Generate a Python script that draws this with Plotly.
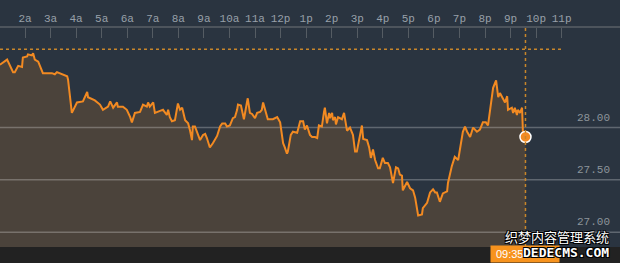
import plotly.graph_objects as go

day = "2015-01-01"

times = ["01:01","01:13","01:18","01:32","01:36","01:44","01:53","01:55","02:05","02:07","02:16","02:19","02:23","02:31","02:42","03:03","03:10","03:15","03:27","03:39","03:41","03:50","04:02","04:16","04:26","04:28","04:44","04:56","05:03","05:15","05:20","05:27","05:36","05:38","05:50","05:59","06:07","06:11","06:18","06:30","06:37","06:46","06:49","06:53","07:01","07:05","07:17","07:24","07:33","07:36","07:40","07:45","07:52","07:59","08:04","08:09","08:16","08:23","08:27","08:32","08:34","08:39","08:51","08:58","09:03","09:07","09:14","09:21","09:31","09:38","09:43","09:50","09:54","10:01","10:08","10:13","10:18","10:20","10:27","10:34","10:41","10:43","10:48","10:53","11:00","11:05","11:12","11:16","11:19","11:23","11:30","11:42","11:52","11:59","12:06","12:10","12:15","12:17","12:24","12:29","12:39","12:46","12:53","12:57","13:02","13:09","13:14","13:21","13:26","13:30","13:37","13:42","13:44","13:49","13:54","13:56","14:01","14:03","14:08","14:10","14:15","14:24","14:29","14:36","14:43","14:50","14:55","14:59","15:07","15:11","15:14","15:23","15:28","15:32","15:37","15:42","15:49","15:53","16:00","16:05","16:12","16:17","16:24","16:31","16:36","16:40","16:45","16:47","16:57","17:04","17:11","17:16","17:23","17:32","17:34","17:44","17:51","17:58","18:03","18:07","18:14","18:21","18:31","18:33","18:42","18:49","18:57","19:06","19:08","19:13","19:18","19:25","19:32","19:41","19:48","19:55","20:02","20:07","20:12","20:19","20:26","20:31","20:35","20:42","20:47","20:52","20:54","21:03","21:06","21:10","21:15","21:17","21:22","21:27","21:29","21:35"]

prices = [28.60,28.64,28.65,28.53,28.53,28.59,28.58,28.67,28.68,28.70,28.69,28.71,28.65,28.63,28.52,28.52,28.51,28.53,28.51,28.49,28.46,28.14,28.24,28.25,28.34,28.29,28.26,28.22,28.17,28.20,28.25,28.19,28.24,28.20,28.20,28.17,28.10,28.05,28.14,28.15,28.22,28.20,28.24,28.20,28.24,28.14,28.16,28.17,28.12,28.17,28.10,28.06,28.07,28.23,28.17,28.19,28.07,28.04,27.98,27.88,28.01,28.01,27.88,27.93,27.94,27.90,27.81,27.85,27.92,28.01,28.04,28.04,28.01,28.02,28.09,28.10,28.17,28.22,28.21,28.08,28.24,28.28,28.14,28.13,28.09,28.14,28.15,28.17,28.24,28.18,28.08,28.08,28.10,28.05,27.85,27.81,27.75,27.77,27.93,27.96,27.95,28.06,28.06,27.98,28.02,27.93,27.91,27.91,27.90,28.02,28.01,28.15,28.19,28.04,28.14,28.09,28.14,28.07,28.10,28.03,28.10,28.08,28.14,27.97,28.00,27.93,27.77,27.77,27.95,28.02,27.89,27.88,27.81,27.71,27.79,27.69,27.61,27.61,27.71,27.66,27.66,27.62,27.47,27.62,27.61,27.55,27.54,27.40,27.48,27.42,27.40,27.33,27.16,27.17,27.23,27.28,27.38,27.41,27.38,27.38,27.29,27.37,27.39,27.47,27.63,27.72,27.69,27.95,27.96,28.01,27.96,27.91,28.00,27.96,27.98,28.05,28.05,28.02,28.17,28.38,28.45,28.29,28.33,28.28,28.24,28.30,28.17,28.19,28.14,28.19,28.12,28.17,28.14,28.19,27.96,27.91]

tick_hours = ["02:00","03:00","04:00","05:00","06:00","07:00","08:00","09:00","10:00","11:00","12:00","13:00","14:00","15:00","16:00","17:00","18:00","19:00","20:00","21:00","22:00","23:00"]
tick_labels = ["2a","3a","4a","5a","6a","7a","8a","9a","10a","11a","12p","1p","2p","3p","4p","5p","6p","7p","8p","9p","10p","11p"]

grid_levels = [27.00, 27.50, 28.00]
grid_labels = ["27.00", "27.50", "28.00"]
ref_level = 28.75
ref_end = "23:00"
last_time_label = "09:35"
last_price_label = "27.91"

x_range = [day + " 01:01:18", "2015-01-02 01:16:55"]
y_range = [26.858, 28.952]

xs = [day + " " + t for t in times]

BG = "#2a3440"
FILL = "#4b433b"
ORANGE = "#f28a22"

fig = go.Figure()

# filled area
fig.add_trace(go.Scatter(x=xs, y=prices, mode="lines", line=dict(width=0, color=ORANGE),
                         fill="tozeroy", fillcolor=FILL, hoverinfo="skip", showlegend=False))
# grid lines drawn over the fill
for g in grid_levels:
    fig.add_trace(go.Scatter(x=[x_range[0], x_range[1]], y=[g, g], mode="lines",
                             line=dict(color="rgba(255,255,255,0.25)", width=1.5),
                             hoverinfo="skip", showlegend=False))
# reference dotted line
fig.add_trace(go.Scatter(x=[x_range[0], day + " " + ref_end], y=[ref_level, ref_level], mode="lines",
                         line=dict(color="#c8862a", width=1.5, dash="dot"),
                         hoverinfo="skip", showlegend=False))
# price line
fig.add_trace(go.Scatter(x=xs, y=prices, mode="lines", line=dict(color=ORANGE, width=2),
                         showlegend=False))
# last point marker
fig.add_trace(go.Scatter(x=[xs[-1]], y=[prices[-1]], mode="markers",
                         marker=dict(size=11, color=ORANGE, line=dict(color="white", width=1.5)),
                         showlegend=False))

shapes = [
    dict(type="line", xref="x", yref="paper", x0=xs[-1], x1=xs[-1], y0=16/263, y1=235/263,
         line=dict(color="#c8862a", width=1.5, dash="dot"), layer="above"),
    dict(type="rect", xref="paper", yref="paper", x0=0, x1=1, y0=0, y1=16/263,
         fillcolor="#222222", line=dict(width=0), layer="above"),
]

annotations = []
for g, lab in zip(grid_levels, grid_labels):
    annotations.append(dict(xref="paper", yref="y", x=612/620, y=g, text=lab, showarrow=False,
                            xanchor="right", yanchor="bottom", yshift=2,
                            font=dict(family="Liberation Mono", size=11, color="#8d949b")))

annotations.append(dict(xref="x", yref="paper", x=xs[-1], y=0, yanchor="bottom", xanchor="center",
                        text="<span style='color:#ffffff'>" + last_time_label + "</span> <span style='color:#3a2a12'>" + last_price_label + "</span>",
                        showarrow=False, bgcolor="#f7931e", width=66, height=14, borderpad=1,
                        font=dict(family="Liberation Sans", size=11)))

wm_shadow = "1px 1px 0px #000, -1px -1px 0px #000, 1px -1px 0px #000, -1px 1px 0px #000"
annotations.append(dict(xref="paper", yref="paper", x=611/620, y=(263-236)/263, xanchor="right", yanchor="middle",
                        text="织梦内容管理系统", showarrow=False,
                        font=dict(family="Noto Sans CJK SC", size=13, color="white", shadow=wm_shadow)))
annotations.append(dict(xref="paper", yref="paper", x=611/620, y=(263-252)/263, xanchor="right", yanchor="middle",
                        text="<b>DEDECMS.COM</b>", showarrow=False,
                        font=dict(family="DejaVu Sans Mono", size=13, color="white", shadow=wm_shadow)))

fig.update_layout(
    width=620, height=263,
    margin=dict(l=0, r=0, t=0, b=0),
    paper_bgcolor=BG, plot_bgcolor=BG,
    shapes=shapes, annotations=annotations,
    xaxis=dict(type="date", range=x_range, domain=[0, 1], side="top",
               tickmode="array", tickvals=[day + " " + h for h in tick_hours], ticktext=tick_labels,
               ticks="inside", ticklen=10, tickcolor="#555c63", tickwidth=1,
               showline=True, linecolor="#4d545c", linewidth=2,
               showgrid=False, zeroline=False,
               tickfont=dict(family="Liberation Mono", size=11, color="#98a0a9")),
    yaxis=dict(range=y_range, domain=[16/263, 235/263], showgrid=False, zeroline=False,
               showticklabels=False, ticks=""),
)

fig.write_html("out.html")
